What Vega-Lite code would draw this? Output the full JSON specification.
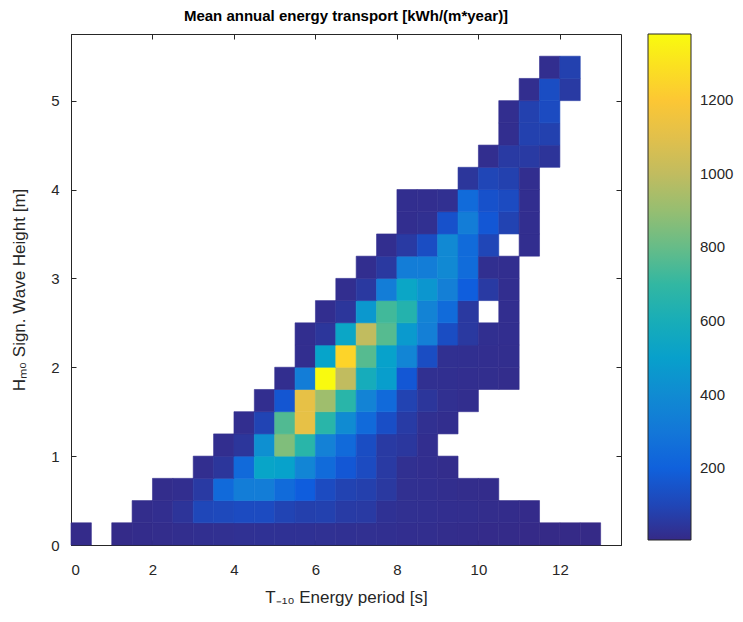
{
"$schema": "https://vega.github.io/schema/vega-lite/v6.json",
"width": 550, "height": 511,
"autosize": {"type": "none"},
"padding": {"left": 71, "top": 34, "right": 122, "bottom": 77},
"background": "white",
"title": {"text": "Mean annual energy transport [kWh/(m*year)]", "fontSize": 15, "fontWeight": "bold", "font": "Liberation Sans", "color": "#000000", "offset": 10, "anchor": "middle"},
"config": {
  "view": {"stroke": "#262626", "strokeWidth": 1},
  "axis": {"grid": false, "domainColor": "#262626", "tickColor": "#262626", "tickSize": -5, "labelFont": "Liberation Sans", "labelFontSize": 15, "labelColor": "#262626", "titleFont": "Liberation Sans", "titleFontSize": 17, "titleFontWeight": "normal", "titleColor": "#262626"}
},
"data": {"values": [
{"T":0,"H":0,"T2":0.5,"H2":0.25,"E":10},
{"T":1,"H":0,"T2":1.5,"H2":0.25,"E":8},
{"T":1.5,"H":0,"T2":2,"H2":0.25,"E":12},
{"T":2,"H":0,"T2":2.5,"H2":0.25,"E":15},
{"T":2.5,"H":0,"T2":3,"H2":0.25,"E":18},
{"T":3,"H":0,"T2":3.5,"H2":0.25,"E":22},
{"T":3.5,"H":0,"T2":4,"H2":0.25,"E":25},
{"T":4,"H":0,"T2":4.5,"H2":0.25,"E":28},
{"T":4.5,"H":0,"T2":5,"H2":0.25,"E":30},
{"T":5,"H":0,"T2":5.5,"H2":0.25,"E":30},
{"T":5.5,"H":0,"T2":6,"H2":0.25,"E":30},
{"T":6,"H":0,"T2":6.5,"H2":0.25,"E":28},
{"T":6.5,"H":0,"T2":7,"H2":0.25,"E":27},
{"T":7,"H":0,"T2":7.5,"H2":0.25,"E":25},
{"T":7.5,"H":0,"T2":8,"H2":0.25,"E":22},
{"T":8,"H":0,"T2":8.5,"H2":0.25,"E":20},
{"T":8.5,"H":0,"T2":9,"H2":0.25,"E":18},
{"T":9,"H":0,"T2":9.5,"H2":0.25,"E":15},
{"T":9.5,"H":0,"T2":10,"H2":0.25,"E":12},
{"T":10,"H":0,"T2":10.5,"H2":0.25,"E":10},
{"T":10.5,"H":0,"T2":11,"H2":0.25,"E":8},
{"T":11,"H":0,"T2":11.5,"H2":0.25,"E":6},
{"T":11.5,"H":0,"T2":12,"H2":0.25,"E":5},
{"T":12,"H":0,"T2":12.5,"H2":0.25,"E":5},
{"T":12.5,"H":0,"T2":13,"H2":0.25,"E":5},

{"T":1.5,"H":0.25,"T2":2,"H2":0.5,"E":15},
{"T":2,"H":0.25,"T2":2.5,"H2":0.5,"E":20},
{"T":2.5,"H":0.25,"T2":3,"H2":0.5,"E":40},
{"T":3,"H":0.25,"T2":3.5,"H2":0.5,"E":105},
{"T":3.5,"H":0.25,"T2":4,"H2":0.5,"E":110},
{"T":4,"H":0.25,"T2":4.5,"H2":0.5,"E":120},
{"T":4.5,"H":0.25,"T2":5,"H2":0.5,"E":120},
{"T":5,"H":0.25,"T2":5.5,"H2":0.5,"E":95},
{"T":5.5,"H":0.25,"T2":6,"H2":0.5,"E":80},
{"T":6,"H":0.25,"T2":6.5,"H2":0.5,"E":85},
{"T":6.5,"H":0.25,"T2":7,"H2":0.5,"E":65},
{"T":7,"H":0.25,"T2":7.5,"H2":0.5,"E":60},
{"T":7.5,"H":0.25,"T2":8,"H2":0.5,"E":30},
{"T":8,"H":0.25,"T2":8.5,"H2":0.5,"E":25},
{"T":8.5,"H":0.25,"T2":9,"H2":0.5,"E":22},
{"T":9,"H":0.25,"T2":9.5,"H2":0.5,"E":20},
{"T":9.5,"H":0.25,"T2":10,"H2":0.5,"E":18},
{"T":10,"H":0.25,"T2":10.5,"H2":0.5,"E":15},
{"T":10.5,"H":0.25,"T2":11,"H2":0.5,"E":12},
{"T":11,"H":0.25,"T2":11.5,"H2":0.5,"E":10},

{"T":2,"H":0.5,"T2":2.5,"H2":0.75,"E":15},
{"T":2.5,"H":0.5,"T2":3,"H2":0.75,"E":20},
{"T":3,"H":0.5,"T2":3.5,"H2":0.75,"E":60},
{"T":3.5,"H":0.5,"T2":4,"H2":0.75,"E":240},
{"T":4,"H":0.5,"T2":4.5,"H2":0.75,"E":330},
{"T":4.5,"H":0.5,"T2":5,"H2":0.75,"E":330},
{"T":5,"H":0.5,"T2":5.5,"H2":0.75,"E":245},
{"T":5.5,"H":0.5,"T2":6,"H2":0.75,"E":180},
{"T":6,"H":0.5,"T2":6.5,"H2":0.75,"E":120},
{"T":6.5,"H":0.5,"T2":7,"H2":0.75,"E":90},
{"T":7,"H":0.5,"T2":7.5,"H2":0.75,"E":80},
{"T":7.5,"H":0.5,"T2":8,"H2":0.75,"E":55},
{"T":8,"H":0.5,"T2":8.5,"H2":0.75,"E":25},
{"T":8.5,"H":0.5,"T2":9,"H2":0.75,"E":22},
{"T":9,"H":0.5,"T2":9.5,"H2":0.75,"E":18},
{"T":9.5,"H":0.5,"T2":10,"H2":0.75,"E":15},
{"T":10,"H":0.5,"T2":10.5,"H2":0.75,"E":12},

{"T":3,"H":0.75,"T2":3.5,"H2":1,"E":20},
{"T":3.5,"H":0.75,"T2":4,"H2":1,"E":45},
{"T":4,"H":0.75,"T2":4.5,"H2":1,"E":240},
{"T":4.5,"H":0.75,"T2":5,"H2":1,"E":530},
{"T":5,"H":0.75,"T2":5.5,"H2":1,"E":510},
{"T":5.5,"H":0.75,"T2":6,"H2":1,"E":370},
{"T":6,"H":0.75,"T2":6.5,"H2":1,"E":245},
{"T":6.5,"H":0.75,"T2":7,"H2":1,"E":160},
{"T":7,"H":0.75,"T2":7.5,"H2":1,"E":120},
{"T":7.5,"H":0.75,"T2":8,"H2":1,"E":60},
{"T":8,"H":0.75,"T2":8.5,"H2":1,"E":25},
{"T":8.5,"H":0.75,"T2":9,"H2":1,"E":20},
{"T":9,"H":0.75,"T2":9.5,"H2":1,"E":15},

{"T":3.5,"H":1,"T2":4,"H2":1.25,"E":20},
{"T":4,"H":1,"T2":4.5,"H2":1.25,"E":45},
{"T":4.5,"H":1,"T2":5,"H2":1.25,"E":420},
{"T":5,"H":1,"T2":5.5,"H2":1.25,"E":850},
{"T":5.5,"H":1,"T2":6,"H2":1.25,"E":670},
{"T":6,"H":1,"T2":6.5,"H2":1.25,"E":350},
{"T":6.5,"H":1,"T2":7,"H2":1.25,"E":240},
{"T":7,"H":1,"T2":7.5,"H2":1.25,"E":125},
{"T":7.5,"H":1,"T2":8,"H2":1.25,"E":60},
{"T":8,"H":1,"T2":8.5,"H2":1.25,"E":50},
{"T":8.5,"H":1,"T2":9,"H2":1.25,"E":20},

{"T":4,"H":1.25,"T2":4.5,"H2":1.5,"E":20},
{"T":4.5,"H":1.25,"T2":5,"H2":1.5,"E":95},
{"T":5,"H":1.25,"T2":5.5,"H2":1.5,"E":760},
{"T":5.5,"H":1.25,"T2":6,"H2":1.5,"E":1120},
{"T":6,"H":1.25,"T2":6.5,"H2":1.5,"E":670},
{"T":6.5,"H":1.25,"T2":7,"H2":1.5,"E":400},
{"T":7,"H":1.25,"T2":7.5,"H2":1.5,"E":240},
{"T":7.5,"H":1.25,"T2":8,"H2":1.5,"E":130},
{"T":8,"H":1.25,"T2":8.5,"H2":1.5,"E":65},
{"T":8.5,"H":1.25,"T2":9,"H2":1.5,"E":25},
{"T":9,"H":1.25,"T2":9.5,"H2":1.5,"E":18},

{"T":4.5,"H":1.5,"T2":5,"H2":1.75,"E":20},
{"T":5,"H":1.5,"T2":5.5,"H2":1.75,"E":155},
{"T":5.5,"H":1.5,"T2":6,"H2":1.75,"E":1120},
{"T":6,"H":1.5,"T2":6.5,"H2":1.75,"E":920},
{"T":6.5,"H":1.5,"T2":7,"H2":1.75,"E":670},
{"T":7,"H":1.5,"T2":7.5,"H2":1.75,"E":360},
{"T":7.5,"H":1.5,"T2":8,"H2":1.75,"E":240},
{"T":8,"H":1.5,"T2":8.5,"H2":1.75,"E":90},
{"T":8.5,"H":1.5,"T2":9,"H2":1.75,"E":45},
{"T":9,"H":1.5,"T2":9.5,"H2":1.75,"E":25},
{"T":9.5,"H":1.5,"T2":10,"H2":1.75,"E":18},

{"T":5,"H":1.75,"T2":5.5,"H2":2,"E":20},
{"T":5.5,"H":1.75,"T2":6,"H2":2,"E":330},
{"T":6,"H":1.75,"T2":6.5,"H2":2,"E":1375},
{"T":6.5,"H":1.75,"T2":7,"H2":2,"E":1000},
{"T":7,"H":1.75,"T2":7.5,"H2":2,"E":590},
{"T":7.5,"H":1.75,"T2":8,"H2":2,"E":490},
{"T":8,"H":1.75,"T2":8.5,"H2":2,"E":160},
{"T":8.5,"H":1.75,"T2":9,"H2":2,"E":25},
{"T":9,"H":1.75,"T2":9.5,"H2":2,"E":22},
{"T":9.5,"H":1.75,"T2":10,"H2":2,"E":20},
{"T":10,"H":1.75,"T2":10.5,"H2":2,"E":18},
{"T":10.5,"H":1.75,"T2":11,"H2":2,"E":15},

{"T":5.5,"H":2,"T2":6,"H2":2.25,"E":20},
{"T":6,"H":2,"T2":6.5,"H2":2.25,"E":520},
{"T":6.5,"H":2,"T2":7,"H2":2.25,"E":1250},
{"T":7,"H":2,"T2":7.5,"H2":2.25,"E":770},
{"T":7.5,"H":2,"T2":8,"H2":2.25,"E":510},
{"T":8,"H":2,"T2":8.5,"H2":2.25,"E":370},
{"T":8.5,"H":2,"T2":9,"H2":2.25,"E":125},
{"T":9,"H":2,"T2":9.5,"H2":2.25,"E":25},
{"T":9.5,"H":2,"T2":10,"H2":2.25,"E":22},
{"T":10,"H":2,"T2":10.5,"H2":2.25,"E":20},
{"T":10.5,"H":2,"T2":11,"H2":2.25,"E":18},

{"T":5.5,"H":2.25,"T2":6,"H2":2.5,"E":20},
{"T":6,"H":2.25,"T2":6.5,"H2":2.5,"E":45},
{"T":6.5,"H":2.25,"T2":7,"H2":2.5,"E":540},
{"T":7,"H":2.25,"T2":7.5,"H2":2.5,"E":1000},
{"T":7.5,"H":2.25,"T2":8,"H2":2.5,"E":770},
{"T":8,"H":2.25,"T2":8.5,"H2":2.5,"E":470},
{"T":8.5,"H":2.25,"T2":9,"H2":2.5,"E":340},
{"T":9,"H":2.25,"T2":9.5,"H2":2.5,"E":125},
{"T":9.5,"H":2.25,"T2":10,"H2":2.5,"E":55},
{"T":10,"H":2.25,"T2":10.5,"H2":2.5,"E":22},
{"T":10.5,"H":2.25,"T2":11,"H2":2.5,"E":20},

{"T":6,"H":2.5,"T2":6.5,"H2":2.75,"E":20},
{"T":6.5,"H":2.5,"T2":7,"H2":2.75,"E":45},
{"T":7,"H":2.5,"T2":7.5,"H2":2.75,"E":460},
{"T":7.5,"H":2.5,"T2":8,"H2":2.75,"E":730},
{"T":8,"H":2.5,"T2":8.5,"H2":2.75,"E":650},
{"T":8.5,"H":2.5,"T2":9,"H2":2.75,"E":360},
{"T":9,"H":2.5,"T2":9.5,"H2":2.75,"E":245},
{"T":9.5,"H":2.5,"T2":10,"H2":2.75,"E":55},
{"T":10.5,"H":2.5,"T2":11,"H2":2.75,"E":20},

{"T":6.5,"H":2.75,"T2":7,"H2":3,"E":20},
{"T":7,"H":2.75,"T2":7.5,"H2":3,"E":55},
{"T":7.5,"H":2.75,"T2":8,"H2":3,"E":330},
{"T":8,"H":2.75,"T2":8.5,"H2":3,"E":540},
{"T":8.5,"H":2.75,"T2":9,"H2":3,"E":450},
{"T":9,"H":2.75,"T2":9.5,"H2":3,"E":340},
{"T":9.5,"H":2.75,"T2":10,"H2":3,"E":185},
{"T":10,"H":2.75,"T2":10.5,"H2":3,"E":60},
{"T":10.5,"H":2.75,"T2":11,"H2":3,"E":20},

{"T":7,"H":3,"T2":7.5,"H2":3.25,"E":20},
{"T":7.5,"H":3,"T2":8,"H2":3.25,"E":55},
{"T":8,"H":3,"T2":8.5,"H2":3.25,"E":330},
{"T":8.5,"H":3,"T2":9,"H2":3.25,"E":330},
{"T":9,"H":3,"T2":9.5,"H2":3.25,"E":390},
{"T":9.5,"H":3,"T2":10,"H2":3.25,"E":250},
{"T":10,"H":3,"T2":10.5,"H2":3.25,"E":22},
{"T":10.5,"H":3,"T2":11,"H2":3.25,"E":20},

{"T":7.5,"H":3.25,"T2":8,"H2":3.5,"E":20},
{"T":8,"H":3.25,"T2":8.5,"H2":3.5,"E":60},
{"T":8.5,"H":3.25,"T2":9,"H2":3.5,"E":125},
{"T":9,"H":3.25,"T2":9.5,"H2":3.5,"E":390},
{"T":9.5,"H":3.25,"T2":10,"H2":3.5,"E":245},
{"T":10,"H":3.25,"T2":10.5,"H2":3.5,"E":100},
{"T":11,"H":3.25,"T2":11.5,"H2":3.5,"E":20},

{"T":8,"H":3.5,"T2":8.5,"H2":3.75,"E":20},
{"T":8.5,"H":3.5,"T2":9,"H2":3.75,"E":25},
{"T":9,"H":3.5,"T2":9.5,"H2":3.75,"E":140},
{"T":9.5,"H":3.5,"T2":10,"H2":3.75,"E":330},
{"T":10,"H":3.5,"T2":10.5,"H2":3.75,"E":160},
{"T":10.5,"H":3.5,"T2":11,"H2":3.75,"E":90},
{"T":11,"H":3.5,"T2":11.5,"H2":3.75,"E":20},

{"T":8,"H":3.75,"T2":8.5,"H2":4,"E":20},
{"T":8.5,"H":3.75,"T2":9,"H2":4,"E":20},
{"T":9,"H":3.75,"T2":9.5,"H2":4,"E":25},
{"T":9.5,"H":3.75,"T2":10,"H2":4,"E":245},
{"T":10,"H":3.75,"T2":10.5,"H2":4,"E":140},
{"T":10.5,"H":3.75,"T2":11,"H2":4,"E":120},
{"T":11,"H":3.75,"T2":11.5,"H2":4,"E":20},

{"T":9.5,"H":4,"T2":10,"H2":4.25,"E":45},
{"T":10,"H":4,"T2":10.5,"H2":4.25,"E":100},
{"T":10.5,"H":4,"T2":11,"H2":4.25,"E":85},
{"T":11,"H":4,"T2":11.5,"H2":4.25,"E":20},

{"T":10,"H":4.25,"T2":10.5,"H2":4.5,"E":20},
{"T":10.5,"H":4.25,"T2":11,"H2":4.5,"E":60},
{"T":11,"H":4.25,"T2":11.5,"H2":4.5,"E":60},
{"T":11.5,"H":4.25,"T2":12,"H2":4.5,"E":40},

{"T":10.5,"H":4.5,"T2":11,"H2":4.75,"E":20},
{"T":11,"H":4.5,"T2":11.5,"H2":4.75,"E":85},
{"T":11.5,"H":4.5,"T2":12,"H2":4.75,"E":85},

{"T":10.5,"H":4.75,"T2":11,"H2":5,"E":20},
{"T":11,"H":4.75,"T2":11.5,"H2":5,"E":85},
{"T":11.5,"H":4.75,"T2":12,"H2":5,"E":120},

{"T":11,"H":5,"T2":11.5,"H2":5.25,"E":20},
{"T":11.5,"H":5,"T2":12,"H2":5.25,"E":125},
{"T":12,"H":5,"T2":12.5,"H2":5.25,"E":60},

{"T":11.5,"H":5.25,"T2":12,"H2":5.5,"E":20},
{"T":12,"H":5.25,"T2":12.5,"H2":5.5,"E":85}
]},
"layer": [
 {
  "mark": {"type": "rect", "strokeWidth": 0.6, "stroke": {"expr": "scale('color', datum.E)"}},
  "encoding": {
   "x": {"field": "T", "type": "quantitative", "scale": {"domain": [0, 13.5], "nice": false, "zero": false},
         "axis": {"values": [0,2,4,6,8,10,12], "labelPadding": 22, "titlePadding": 12, "title": "T₋₁₀ Energy period [s]"}},
   "x2": {"field": "T2"},
   "y": {"field": "H", "type": "quantitative", "scale": {"domain": [0, 5.75], "nice": false, "zero": false},
         "axis": {"values": [0,1,2,3,4,5], "labelPadding": 17, "titlePadding": 22, "title": "Hₘ₀ Sign. Wave Height [m]"}},
   "y2": {"field": "H2"},
   "color": {"field": "E", "type": "quantitative",
     "scale": {"domain": [5, 1380], "interpolate": "rgb", "range": ["#352a87", "#0f5cdd", "#1481d6", "#06a4ca", "#2eb7a4", "#87bf77", "#d1bb59", "#fec832", "#f9fb0e"]},
     "legend": {"type": "gradient", "orient": "right", "direction": "vertical", "offset": 26, "padding": 0, "gradientLength": 506, "gradientThickness": 43, "values": [200,400,600,800,1000,1200], "format": "d", "title": null, "labelFont": "Liberation Sans", "labelFontSize": 15, "labelOffset": 9, "labelColor": "#262626", "gradientStrokeColor": "#262626", "gradientStrokeWidth": 1}}
  }
 },
 {
  "mark": {"type": "rect", "opacity": 0},
  "encoding": {
   "x": {"field": "T", "type": "quantitative", "axis": {"orient": "top", "values": [0,2,4,6,8,10,12], "labels": false, "title": null, "domain": false}},
   "x2": {"field": "T2"},
   "y": {"field": "H", "type": "quantitative", "axis": {"orient": "right", "values": [0,1,2,3,4,5], "labels": false, "title": null, "domain": false}},
   "y2": {"field": "H2"}
  }
 }
],
"resolve": {"axis": {"x": "independent", "y": "independent"}}
}
